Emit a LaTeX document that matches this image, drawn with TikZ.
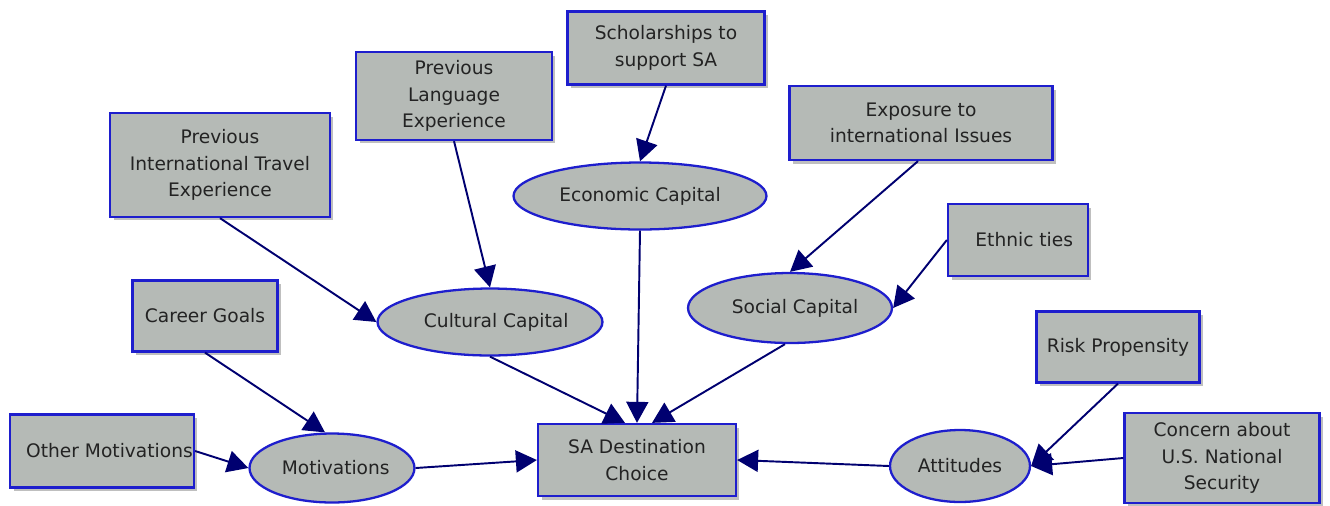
\documentclass[tikz,border=0pt]{standalone}
\usepackage{fontspec}
\setmainfont{DejaVu Sans}
\usetikzlibrary{shapes.geometric,arrows.meta,shadows,calc}
\definecolor{boxfill}{RGB}{181,186,182}
\definecolor{boxline}{RGB}{30,30,205}
\definecolor{arrowcol}{RGB}{0,0,112}
\definecolor{txt}{RGB}{35,35,35}

\begin{document}
\begin{tikzpicture}[x=0.02cm,y=-0.02cm,
  every node/.style={font=\fontsize{10.6}{15}\selectfont,text=txt,align=center,inner sep=0pt},
  factor/.style={rectangle,draw=boxline,line width=1.3pt,fill=boxfill,
    drop shadow={shadow xshift=.07cm,shadow yshift=-.07cm,fill=gray,opacity=.5}},
  latent/.style={ellipse,draw=boxline,line width=1.3pt,fill=boxfill},
  link/.style={draw=arrowcol,line width=1.1pt,-{Triangle[length=0.42cm,width=0.44cm]}}]
\useasboundingbox (0,0) rectangle (1330,505);

\node[factor,minimum width=3.94cm,minimum height=1.46cm] (schol) at (666,48) {Scholarships to\\support SA};
\node[factor,minimum width=3.92cm,minimum height=1.76cm] (lang) at (454,96) {Previous\\Language\\Experience};
\node[factor,minimum width=4.4cm,minimum height=2.08cm] (travel) at (220,165) {Previous\\International Travel\\Experience};
\node[factor,minimum width=5.26cm,minimum height=1.48cm] (expo) at (921,123) {Exposure to\\international Issues};
\node[factor,minimum width=2.8cm,minimum height=1.44cm] (ethnic) at (1018,240) {\hspace{0.25cm}Ethnic ties};
\node[factor,minimum width=2.9cm,minimum height=1.42cm] (career) at (205,316) {Career Goals};
\node[factor,minimum width=3.26cm,minimum height=1.42cm] (risk) at (1118,347) {Risk Propensity};
\node[factor,minimum width=3.68cm,minimum height=1.46cm] (other) at (102,451) {\hspace{0.3cm}Other Motivations};
\node[factor,minimum width=3.96cm,minimum height=1.44cm] (sa) at (637,460) {SA Destination\\Choice};
\node[factor,minimum width=3.9cm,minimum height=1.8cm] (concern) at (1222,458) {Concern about\\U.S. National\\Security};

\node[latent,minimum width=5.06cm,minimum height=1.34cm] (econ) at (640,196) {Economic Capital};
\node[latent,minimum width=4.08cm,minimum height=1.4cm] (social) at (790,308) {\hspace{0.2cm}Social Capital};
\node[latent,minimum width=4.5cm,minimum height=1.34cm] (cultural) at (490,322) {\hspace{0.25cm}Cultural Capital};
\node[latent,minimum width=3.3cm,minimum height=1.38cm] (motiv) at (332,468) {\hspace{0.15cm}Motivations};
\node[latent,minimum width=2.8cm,minimum height=1.44cm] (att) at (960,466) {Attitudes};

\draw[link] (schol.south) -- (econ.north);
\draw[link] (lang.south) -- (cultural.north);
\draw[link] (travel.south) -- (cultural.west);
\draw[link] ($(expo.south)+(-3,0)$) -- (social.north);
\draw[link] (ethnic.west) -- (social.east);
\draw[link] (econ.south) -- (sa.north);
\draw[link] (cultural.south) -- ($(sa.north)+(-12,0)$);
\draw[link] ($(social.south)+(-5,0)$) -- ($(sa.north)+(15,0)$);
\draw[link] (career.south) -- ($(motiv.north)+(-7,0)$);
\draw[link] (other.east) -- (motiv.west);
\draw[link] (motiv.east) -- (sa.west);
\draw[link] (att.west) -- (sa.east);
\draw[link] (risk.south) -- (att.east);
\draw[link] (concern.west) -- (att.east);
\end{tikzpicture}
\end{document}
